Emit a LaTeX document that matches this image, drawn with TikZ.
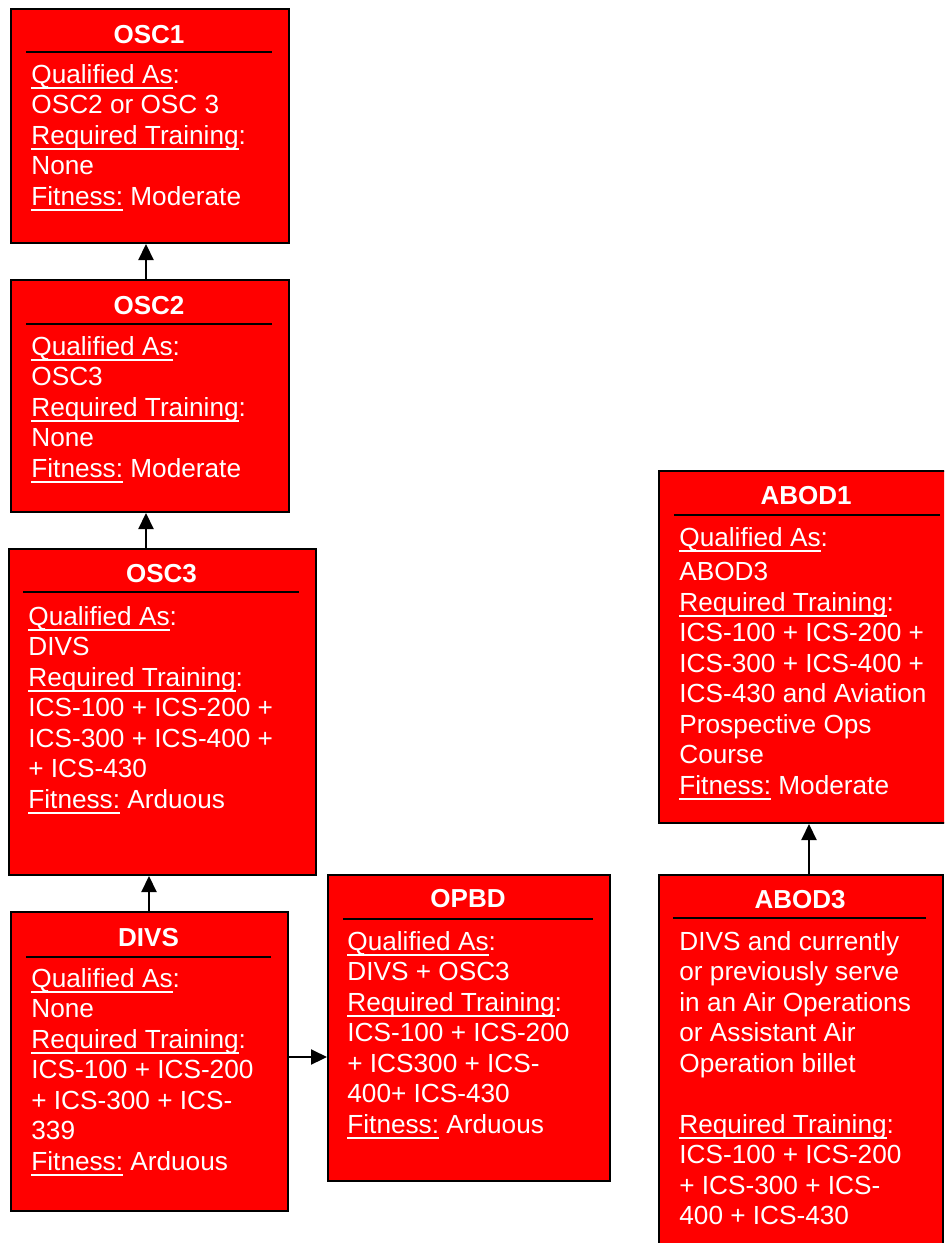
\documentclass[tikz,border=0pt]{standalone}
\usepackage{fontspec}
\setmainfont{Liberation Sans}
\usetikzlibrary{arrows.meta}
\definecolor{boxred}{HTML}{FF0000}
\newcommand\bodyfont{\fontsize{13.1pt}{15.25pt}\selectfont}
\newcommand\titlefont{\bfseries\fontsize{13pt}{15pt}\selectfont}
% underline sitting just below the baseline
\newcommand\ulin[1]{\leavevmode\sbox0{#1}\rlap{\rule[-2.6pt]{\wd0}{0.85pt}}\usebox0}
% fixed-height start of a text block: its top lies 10pt above the first baseline
\newcommand\topstrut{\rule{0pt}{10pt}}
\tikzset{
  box/.style={draw=black, line width=1pt, fill=boxred, inner sep=0pt, anchor=north west},
  ttl/.style={font=\titlefont, text=white, anchor=base, inner sep=0pt},
  body/.style={font=\bodyfont, text=white, align=left, anchor=north west, inner sep=0pt},
  hrule/.style={line width=1pt, draw=black},
  arr/.style={line width=1.1pt, draw=black, -{Triangle[length=8pt,width=7.5pt]}}
}
\begin{document}
\begin{tikzpicture}[x=0.5pt, y=-0.5pt]
\useasboundingbox (0,0) rectangle (944,1243);
\clip (0,0) rectangle (944,1243);

% ---- OSC1
\node[box, minimum width={278*0.5pt}, minimum height={234*0.5pt}] (osc1) at (10,8) {};
\node[ttl] (osc1t) at (149,43) {OSC1};
\draw[hrule] (26,52) -- (272,52);
\node[body] (osc1b) at (31,63) {\topstrut\ulin{Qualified As}:\\OSC2 or OSC 3\\\ulin{Required Training}:\\None\\\ulin{Fitness:} Moderate};

% ---- OSC2
\node[box, minimum width={278*0.5pt}, minimum height={232*0.5pt}] (osc2) at (10,279) {};
\node[ttl] (osc2t) at (149,314) {OSC2};
\draw[hrule] (26,324) -- (272,324);
\node[body] (osc2b) at (31,335) {\topstrut\ulin{Qualified As}:\\OSC3\\\ulin{Required Training}:\\None\\\ulin{Fitness:} Moderate};

% ---- OSC3
\node[box, minimum width={307*0.5pt}, minimum height={326*0.5pt}] (osc3) at (8,548) {};
\node[ttl] (osc3t) at (161.5,582) {OSC3};
\draw[hrule] (23,592) -- (299,592);
\node[body] (osc3b) at (28,605) {\topstrut\ulin{Qualified As}:\\DIVS\\\ulin{Required Training}:\\ICS-100 + ICS-200 +\\ICS-300 + ICS-400 +\\+ ICS-430\\\ulin{Fitness:} Arduous};

% ---- DIVS
\node[box, minimum width={277*0.5pt}, minimum height={299*0.5pt}] (divs) at (10,911) {};
\node[ttl] (divst) at (148.5,946) {DIVS};
\draw[hrule] (26,957) -- (271,957);
\node[body] (divsb) at (31,967) {\topstrut\ulin{Qualified As}:\\None\\\ulin{Required Training}:\\ICS-100 + ICS-200\\+ ICS-300 + ICS-\\339\\\ulin{Fitness:} Arduous};

% ---- OPBD
\node[box, minimum width={282*0.5pt}, minimum height={306*0.5pt}] (opbd) at (327,874) {};
\node[ttl] (opbdt) at (468,907) {OPBD};
\draw[hrule] (343,919) -- (593,919);
\node[body] (opbdb) at (347,930) {\topstrut\ulin{Qualified As}:\\DIVS + OSC3\\\ulin{Required Training}:\\ICS-100 + ICS-200\\+ ICS300 + ICS-\\400+ ICS-430\\\ulin{Fitness:} Arduous};

% ---- ABOD1
\node[box, minimum width={292*0.5pt}, minimum height={352*0.5pt}] (abod1) at (658,470) {};
\node[ttl] (abod1t) at (806,504) {ABOD1};
\draw[hrule] (674,515) -- (940,515);
\node[body] (abod1b) at (679,526) {\topstrut\ulin{Qualified As}:\\[2pt]ABOD3\\\ulin{Required Training}:\\ICS-100 + ICS-200 +\\ICS-300 + ICS-400 +\\ICS-430 and Aviation\\Prospective Ops\\Course\\\ulin{Fitness:} Moderate};

% ---- ABOD3
\node[box, minimum width={284*0.5pt}, minimum height={386*0.5pt}] (abod3) at (658,874) {};
\node[ttl] (abod3t) at (800,908) {ABOD3};
\draw[hrule] (673,918) -- (926,918);
\node[body] (abod3b) at (679,930) {\topstrut DIVS and currently\\or previously serve\\in an Air Operations\\or Assistant Air\\Operation billet\\ \\\ulin{Required Training}:\\ICS-100 + ICS-200\\+ ICS-300 + ICS-\\400 + ICS-430};

% ---- connectors
\draw[arr] (osc2.north -| 146,0) -- (osc1.south -| 146,0);
\draw[arr] (osc3.north -| 146,0) -- (osc2.south -| 146,0);
\draw[arr] (divs.north -| 149,0) -- (osc3.south -| 149,0);
\draw[arr] (divs.east |- 0,1057) -- (opbd.west |- 0,1057);
\draw[arr] (abod3.north -| 809,0) -- (abod1.south -| 809,0);
\end{tikzpicture}
\end{document}
